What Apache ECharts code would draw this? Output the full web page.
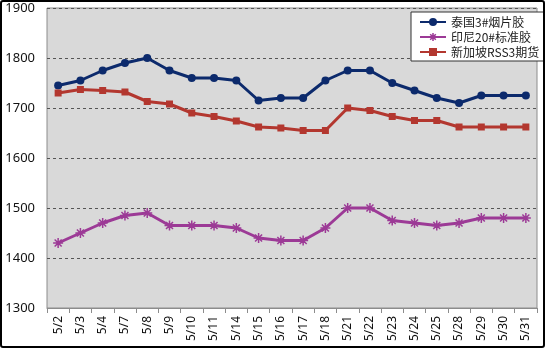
<!DOCTYPE html>
<html><head><meta charset="utf-8">
<script src="https://cdn.jsdelivr.net/npm/echarts@6/dist/echarts.min.js"></script>
<style>
html,body{margin:0;padding:0;background:#fff;}
#frame{position:absolute;left:0;top:0;width:541px;height:344px;border:2px solid #000;border-radius:3px;}
#c{position:absolute;left:0;top:0;width:545px;height:348px;}
</style></head><body>
<div id="c"></div><div id="frame"></div>
<script>
const categories = ['5/2','5/3','5/4','5/7','5/8','5/9','5/10','5/11','5/14','5/15','5/16','5/17','5/18','5/21','5/22','5/23','5/24','5/25','5/28','5/29','5/30','5/31'];
const seriesNames = ['泰国3#烟片胶','印尼20#标准胶','新加坡RSS3期货'];
const thai = [1745,1755,1775,1790,1800,1775,1760,1760,1755,1715,1720,1720,1755,1775,1775,1750,1735,1720,1710,1725,1725,1725];
const indo = [1430,1450,1470,1485,1490,1465,1465,1465,1460,1440,1435,1435,1460,1500,1500,1475,1470,1465,1470,1480,1480,1480];
const sgx = [1730,1737,1735,1732,1713,1708,1690,1683,1674,1662,1660,1655,1655,1700,1695,1683,1675,1675,1662,1662,1662,1662];
const yTicks = [1300,1400,1500,1600,1700,1800,1900];

const colors = ['#0c2a6c','#9c3a96','#b3372f'];
const star = 'path://M0,5L10,5L5,5L5,0L5,10L5,5L1.5,1.5L8.5,8.5L5,5L8.5,1.5L1.5,8.5L5,5Z';
const chart = echarts.init(document.getElementById('c'));
chart.setOption({
  animation:false,
  textStyle:{fontFamily:'"Noto Sans","Noto Sans CJK SC",sans-serif'},
  grid:{left:47,right:8,top:8,bottom:40,show:true,backgroundColor:'#d9d9d9',borderColor:'#8c8c8c',borderWidth:1},
  legend:{
    orient:'vertical',left:411,top:12,width:126,
    backgroundColor:'#fff',borderColor:'#333',borderWidth:1,padding:[4,5,3,8],
    itemWidth:26,itemHeight:10,itemGap:3,
    textStyle:{fontSize:12,color:'#222',fontFamily:'"Noto Sans CJK SC","Noto Sans",sans-serif'},
    data:[
      {name:seriesNames[0]},
      {name:seriesNames[1],itemStyle:{color:colors[1],borderColor:colors[1],borderWidth:1.5}},
      {name:seriesNames[2]}
    ]
  },
  xAxis:{
    type:'category',data:categories,boundaryGap:true,
    axisLine:{lineStyle:{color:'#8c8c8c'}},
    axisTick:{show:true,length:5,lineStyle:{color:'#8c8c8c'}},
    axisLabel:{rotate:90,fontSize:12,color:'#111',margin:8}
  },
  yAxis:{
    type:'value',min:yTicks[0],max:yTicks[yTicks.length-1],interval:100,
    axisLine:{show:false},axisTick:{show:false},
    axisLabel:{fontSize:13,color:'#111',margin:12,formatter:v=>String(v)},
    splitLine:{lineStyle:{type:[3,3],color:'#555',width:1}}
  },
  series:[
    {name:seriesNames[0],type:'line',data:thai,symbol:'circle',symbolSize:8,
     lineStyle:{width:3,color:colors[0]},itemStyle:{color:colors[0]}},
    {name:seriesNames[1],type:'line',data:indo,symbol:star,symbolSize:10,
     lineStyle:{width:3,color:colors[1]},itemStyle:{color:colors[1],borderColor:colors[1],borderWidth:1.5}},
    {name:seriesNames[2],type:'line',data:sgx,symbol:'rect',symbolSize:7,
     lineStyle:{width:3,color:colors[2]},itemStyle:{color:colors[2]}}
  ]
});
</script></body></html>
